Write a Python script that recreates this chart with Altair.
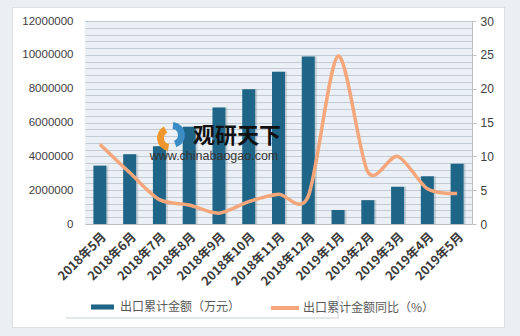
import altair as alt
import pandas as pd

months = ["2018年5月", "2018年6月", "2018年7月", "2018年8月", "2018年9月", "2018年10月",
          "2018年11月", "2018年12月", "2019年1月", "2019年2月", "2019年3月", "2019年4月", "2019年5月"]
export_value = [3450000, 4120000, 4600000, 5750000, 6880000, 7970000, 9000000,
                9900000, 830000, 1410000, 2200000, 2820000, 3560000]
yoy = [11.8, 7.6, 3.6, 2.8, 1.6, 3.3, 4.4, 4.1, 24.8, 7.7, 10.0, 5.2, 4.5]

bar_name = "出口累计金额（万元）"
line_name = "出口累计金额同比（%）"

df = pd.DataFrame({"month": months, "value": export_value, "yoy": yoy,
                   "s1": bar_name, "s2": line_name})

W, H = 387, 203
LAT = "Liberation Sans, Noto Sans CJK SC"
CJK = "Noto Sans CJK SC"

x = alt.X("month:N", sort=months, title=None,
          scale=alt.Scale(paddingInner=0.56, paddingOuter=0.28),
          axis=alt.Axis(labelAngle=-45, labelFontSize=12.5, labelFontWeight="bold",
                        labelColor="#3A3A3A", labelFont=CJK, grid=False,
                        ticks=False, domain=True, domainColor="#BFBFBF", labelPadding=6))

y_left = alt.Y("value:Q", title=None,
               scale=alt.Scale(domain=[0, 12000000], nice=False),
               axis=alt.Axis(values=list(range(0, 12000001, 400000)),
                             labelExpr="datum.value % 2000000 === 0 ? format(datum.value, 'd') : ''",
                             grid=True, gridColor="#C3CBD4", gridWidth=1, gridOpacity=1,
                             ticks=False, domain=False, labelPadding=12,
                             labelFontSize=11.5, labelColor="#404040", labelFont=LAT))

one = pd.DataFrame({"k": [0]})

# outer gray margin (stroke) and thin panel border
frame = alt.Chart(one).mark_rect(fill=None, stroke="#ECEFF2", strokeWidth=30).encode(
    x=alt.value(-73 - 15), x2=alt.value(420 + 15), y=alt.value(-14 - 15), y2=alt.value(307 + 15))
border = alt.Chart(one).mark_rect(fill=None, stroke="#D3D8DD", strokeWidth=1.5).encode(
    x=alt.value(-73), x2=alt.value(420), y=alt.value(-14), y2=alt.value(307))

bar_shadow = alt.Chart(df).mark_bar(size=13, color="#7E8E9C", opacity=0.35, xOffset=2).encode(
    x=x, y=y_left)

bars = alt.Chart(df).mark_bar(size=13).encode(
    x=x,
    y=y_left,
    color=alt.Color("s1:N", title=None,
                    scale=alt.Scale(domain=[bar_name], range=["#1F6587"]),
                    legend=alt.Legend(orient="none", legendX=5, legendY=273.5, padding=0,
                                      symbolType="M-1,-0.22H1V0.22H-1Z", symbolSize=529,
                                      symbolOpacity=1, labelOffset=5,
                                      labelFont=CJK, labelFontSize=12, labelColor="#595959")),
)

line = alt.Chart(df).mark_line(interpolate="cardinal", tension=0.15, strokeWidth=3.5).encode(
    x=x,
    y=alt.Y("yoy:Q", title=None,
            scale=alt.Scale(domain=[0, 30], nice=False),
            axis=alt.Axis(orient="right", values=[0, 5, 10, 15, 20, 25, 30], grid=False,
                          ticks=True, tickSize=4, tickColor="#BFBFBF",
                          domain=True, domainColor="#BFBFBF", labelPadding=4,
                          labelFontSize=12, labelColor="#404040", labelFont=LAT)),
    stroke=alt.Stroke("s2:N", title=None,
                      scale=alt.Scale(domain=[line_name], range=["#F5A77B"]),
                      legend=alt.Legend(orient="none", legendX=184, legendY=271, padding=0,
                                        symbolType="stroke", symbolSize=784, symbolStrokeWidth=4,
                                        labelOffset=2,
                                        labelFont=CJK, labelFontSize=12, labelColor="#595959")),
)

# legend box
legend_shadow = alt.Chart(one).mark_rect(fill="#E3E6EA").encode(
    x=alt.value(-19), x2=alt.value(254), y=alt.value(275), y2=alt.value(298))
legend_box = alt.Chart(one).mark_rect(fill="white").encode(
    x=alt.value(-20), x2=alt.value(252), y=alt.value(273), y2=alt.value(296))

# watermark
wm_text = pd.DataFrame({"t": ["观研天下"]})
wm_url = pd.DataFrame({"t": ["www.chinabaogao.com"]})
wm1 = alt.Chart(wm_text).mark_text(font=CJK, fontSize=22, fontWeight="bold", color="#111111").encode(
    text="t:N", x=alt.value(152), y=alt.value(115))
wm2 = alt.Chart(wm_url).mark_text(font=LAT, fontSize=12.5, color="#333333").encode(
    text="t:N", x=alt.value(129), y=alt.value(135))
logo_o = alt.Chart(one).mark_arc(color="#F0962E", innerRadius=6, outerRadius=13).encode(
    theta=alt.value(3.3), theta2=alt.value(5.8), x=alt.value(85), y=alt.value(117))
logo_b = alt.Chart(one).mark_arc(color="#3A8CC4", innerRadius=6, outerRadius=13).encode(
    theta=alt.value(0.1), theta2=alt.value(2.8), x=alt.value(87), y=alt.value(114))

main = alt.layer(alt.layer(bar_shadow, bars), line).resolve_scale(y="independent", color="independent")

chart = alt.layer(
    legend_shadow, legend_box, border, frame,
    main, logo_o, logo_b, wm1, wm2
).properties(
    width=W, height=H,
    autosize=alt.AutoSizeParams(type="none"),
    padding={"left": 85, "top": 21, "right": 48, "bottom": 112},
    background="white",
).configure_view(fill="#EAF0F6", stroke=None)

chart.save("out.html", embed_options={"renderer": "svg", "actions": False})
